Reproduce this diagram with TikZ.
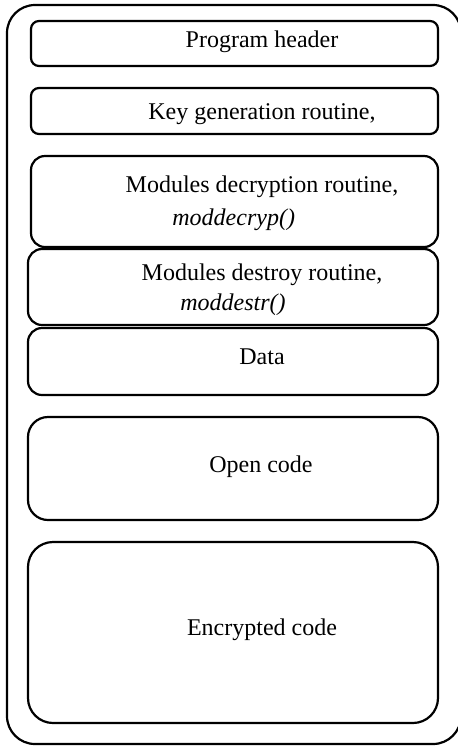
\documentclass[tikz,border=0pt]{standalone}
\usepackage{fontspec}
\setmainfont{Liberation Serif}
\usepackage{tikz}
\tikzset{
    frame/.style={draw,line width=1.1pt,rounded corners=14pt},
    blk/.style={draw,line width=1.1pt,inner sep=0pt,minimum width=#1},
    blk/.default=205pt,
    tt/.style={fill=none,draw=none,text=black,inner sep=0pt,font=\fontsize{12}{14}\selectfont},
    fn/.style={tt,anchor=west,font=\fontsize{12}{14}\selectfont\itshape},
}

\begin{document}
\begin{tikzpicture}[x=0.5pt,y=-0.5pt]
\useasboundingbox (0,0) rectangle (457,746);
% outer frame, right side runs off the page
\node[frame,minimum width=227pt,minimum height=369.5pt] (prog) at (234,374.5) {};
% layout blocks
\node[blk=203.5pt,minimum height=22.5pt,rounded corners=4pt] (hdr) at (234.5,43.5) {};
\node[blk=203.5pt,minimum height=23pt,rounded corners=4pt] (keygen) at (234.5,111) {};
\node[blk=203.5pt,minimum height=45.5pt,rounded corners=7pt] (decr) at (234.5,201.5) {};
\node[blk,minimum height=38pt,rounded corners=7pt] (destr) at (233,287) {};
\node[blk,minimum height=33.5pt,rounded corners=7pt] (data) at (233,361.5) {};
\node[blk,minimum height=51.5pt,rounded corners=10pt] (open) at (233,468.5) {};
\node[blk,minimum height=90.5pt,rounded corners=12.5pt] (enc) at (233,632.5) {};
% texts
\node[tt] (hdr-t) at (262,42) {Program header};
\node[tt] (keygen-t) at (262,114) {Key generation routine,};
\node[tt] (decr-t) at (262,187) {Modules decryption routine,};
\node[fn] (decr-f) at (172,220) {moddecryp()};
\node[tt] (destr-t) at (262,275) {Modules destroy routine,};
\node[fn] (destr-f) at (180,305) {moddestr()};
\node[tt] (data-t) at (262,357) {Data};
\node[tt] (open-t) at (261,467) {Open code};
\node[tt] (enc-t) at (262,630) {Encrypted code};
\end{tikzpicture}
\end{document}
